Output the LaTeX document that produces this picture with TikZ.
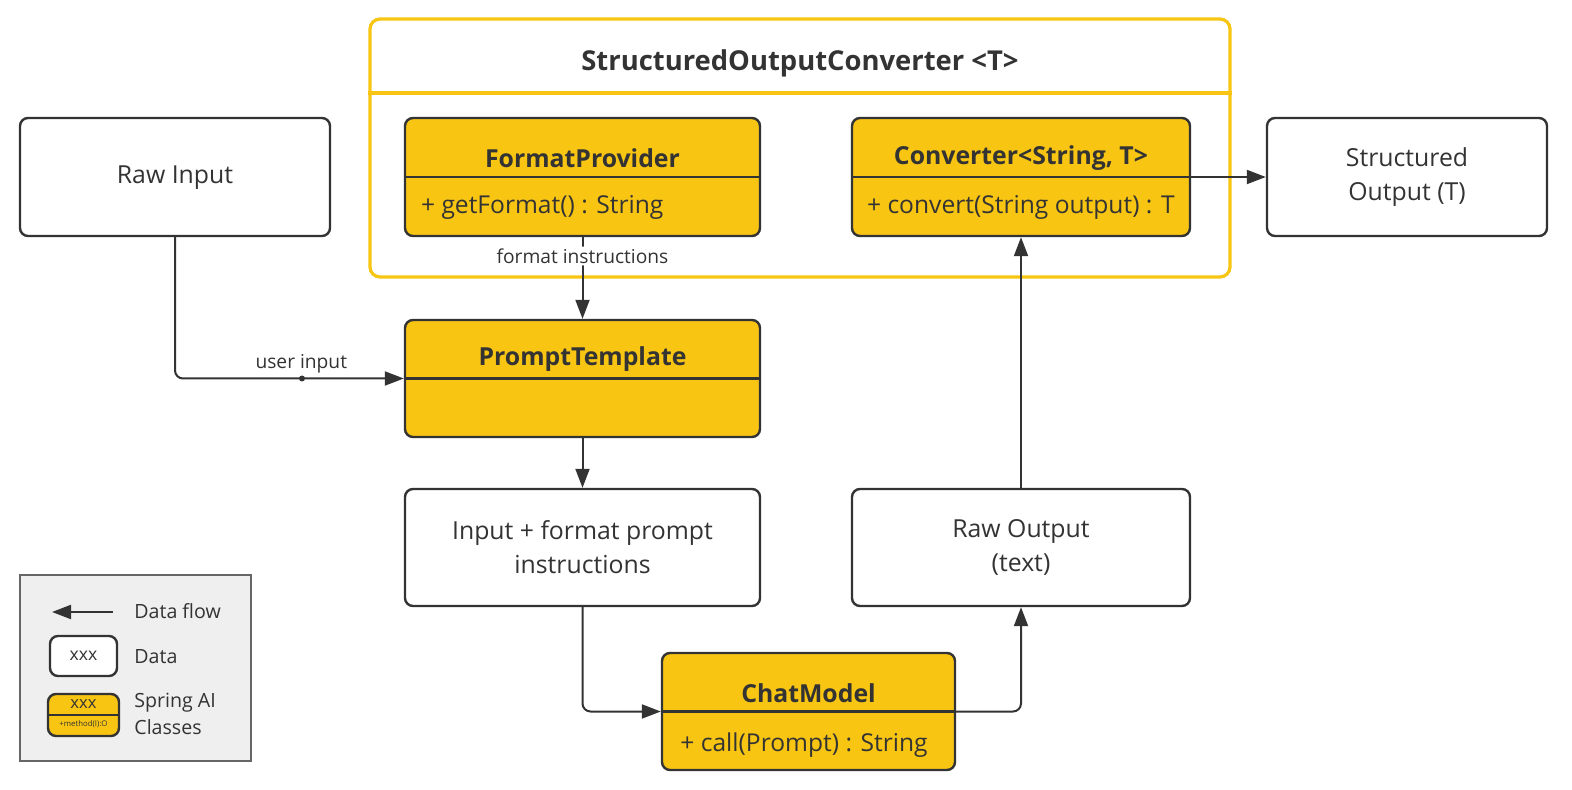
\documentclass[tikz,border=0pt]{standalone}
\usepackage{fontspec}
\setmainfont{Open Sans}
\usetikzlibrary{positioning,arrows.meta}
\definecolor{springy}{HTML}{F8C513}
\definecolor{inkc}{HTML}{333333}
\definecolor{legendbg}{HTML}{EFEFEF}
\definecolor{legendline}{HTML}{666666}

\begin{document}
\begin{tikzpicture}[x=0.5pt, y=-0.5pt,
  every node/.style={text=inkc},
  databox/.style={draw=inkc, line width=1.2pt, rounded corners=4pt, fill=white, align=center, inner sep=0pt, font=\fontsize{12.4}{17}\selectfont},
  classbox/.style={databox, fill=springy},
  title/.style={font=\fontsize{12.4}{14}\selectfont\bfseries},
  method/.style={font=\fontsize{12.3}{14}\selectfont},
  note/.style={font=\fontsize{9.6}{11}\selectfont, inner sep=1pt},
  legtext/.style={font=\fontsize{9.8}{13.5}\selectfont, align=left, inner sep=0pt},
  flow/.style={draw=inkc, line width=1pt, rounded corners=4pt, -{Triangle[length=9.5pt,width=7pt]}}]
\useasboundingbox (0,0) rectangle (1572,790);

% converter frame
\node[draw=springy, line width=1.6pt, rounded corners=5pt, minimum width=430pt, minimum height=129pt] (soc) at (800,148) {};
\coordinate (socsep) at (0,93);
\draw[springy, line width=1.6pt] (soc.west |- socsep) -- (soc.east |- socsep);
\node[font=\fontsize{13.7}{16}\selectfont\bfseries] (socT) at (800,63) {StructuredOutputConverter <T>};

% classes
\node[classbox, minimum width=177.5pt, minimum height=59pt] (fp) at (582.5,177) {};
\draw[inkc, line width=1.2pt] (fp.west) -- (fp.east);
\node[title] (fpT) at (582.5,158) {FormatProvider};
\node[method, anchor=west] (fpM) at (414,207) {+ getFormat() : String};

\node[classbox, minimum width=169pt, minimum height=59pt] (conv) at (1021,177) {};
\draw[inkc, line width=1.2pt] (conv.west) -- (conv.east);
\node[title] (convT) at (1021,158) {Converter<String, T>};
\node[method, anchor=west] (convM) at (860,207) {+ convert(String output) : T};

\node[classbox, minimum width=177.5pt, minimum height=58.5pt] (pt) at (582.5,378.5) {};
\draw[inkc, line width=1.2pt] (pt.west) -- (pt.east);
\node[title] (ptT) at (582.5,359) {PromptTemplate};

\node[classbox, minimum width=146.5pt, minimum height=58.5pt] (cm) at (808.5,711.5) {};
\draw[inkc, line width=1.2pt] (cm.west) -- (cm.east);
\node[title] (cmT) at (808.5,693) {ChatModel};
\node[method] (cmM) at (804,745) {+ call(Prompt) : String};

% data
\node[databox, minimum width=155pt, minimum height=59pt] (raw) at (175,177) {\strut Raw Input};
\node[databox, minimum width=140pt, minimum height=59pt] (so) at (1407,177) {Structured\\Output (T)};
\node[databox, minimum width=177.5pt, minimum height=58.5pt] (inp) at (582.5,547.5) {Input + format prompt\\instructions};
\node[databox, minimum width=169pt, minimum height=58.5pt] (rout) at (1021,547.5) {Raw Output\\(text)};

% flows
\draw[flow] (raw.south) |- (pt.west) node[note, pos=0.776, above=1pt] (uiT) {user input};
\fill[inkc] (302,378.5) circle (1.5pt);
\draw[flow] (fp.south) -- (pt.north) node[note, fill=white, pos=0.23] (fiT) {format instructions};
\draw[flow] (pt.south) -- (inp.north);
\draw[flow] (inp.south) |- (cm.west);
\draw[flow] (cm.east) -| (rout.south);
\draw[flow] (rout.north) -- (conv.south);
\draw[flow] (conv.east) -- (so.west);

% legend
\node[draw=legendline, fill=legendbg, line width=0.8pt, minimum width=115.5pt, minimum height=93pt] (leg) at (135.5,668) {};
\coordinate (legA) at (113,612);
\coordinate (legB) at (52,612);
\draw[flow] (legA) -- (legB);
\node[legtext, anchor=west] (legFlow) at (134,611) {Data flow};
\node[databox, minimum width=33.5pt, minimum height=20pt, font=\fontsize{8.8}{10}\selectfont] (legData) at (83.5,656) {xxx};
\node[legtext, anchor=west] (legDataT) at (134,657) {Data};
\node[classbox, minimum width=35.5pt, minimum height=21pt] (legCls) at (83.5,715) {};
\draw[inkc, line width=1pt] (legCls.west) -- (legCls.east);
\node[font=\fontsize{8.3}{9}\selectfont, inner sep=0pt] (legClsT) at (83.5,704) {xxx};
\node[font=\fontsize{3.9}{4}\selectfont, inner sep=0pt] (legClsM) at (83.5,724) {+method(I):O};
\node[legtext, anchor=west] (legClsL) at (134,714) {Spring AI\\Classes};
\end{tikzpicture}
\end{document}
